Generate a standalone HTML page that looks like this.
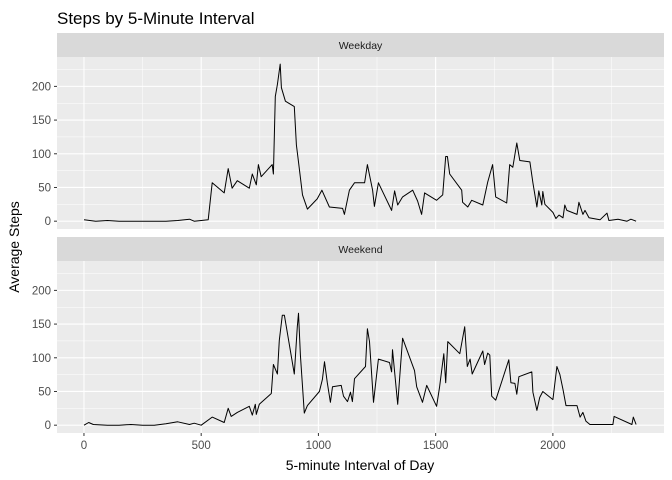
<!DOCTYPE html>
<html><head><meta charset="utf-8"><style>
body{margin:0;background:#fff;}
svg{display:block;font-family:"Liberation Sans",Arial,sans-serif;}
</style></head><body>
<svg id="c" width="672" height="480" viewBox="0 0 672 480">
<text x="57" y="24" font-size="17" fill="#000">Steps by 5-Minute Interval</text>
<text transform="translate(19,247) rotate(-90)" text-anchor="middle" font-size="14" fill="#000">Average Steps</text>
<text x="360" y="470" text-anchor="middle" font-size="14" fill="#000">5-minute Interval of Day</text>
<g id="plot"></g>
</svg>
<script>
const xTicks=[0,500,1000,1500,2000];
const yTicks=[0,50,100,150,200];
const facetNames=["Weekday","Weekend"];
const wdX=[0,50,100,150,200,250,300,350,400,450,470,530,547,598,615,632,654,705,718,735,744,756,803,808,816,825,837,842,859,897,906,915,932,953,995,1015,1047,1103,1111,1132,1154,1197,1209,1231,1239,1256,1312,1325,1338,1359,1402,1423,1440,1453,1504,1530,1543,1550,1560,1611,1615,1637,1654,1701,1722,1743,1756,1803,1816,1829,1846,1859,1902,1915,1932,1940,1953,1957,1966,2000,2013,2026,2043,2051,2060,2103,2111,2128,2137,2154,2201,2231,2239,2278,2316,2333,2355];
const wdY=[2,0,1,0,0,0,0,0,1,3,0,2,57,42,78,49,60,49,70,54,84,66,84,70,185,203,233,198,178,170,113,88,39,18,33,46,21,19,10,46,57,57,84,46,22,57,16,45,24,36,46,30,10,42,31,39,96,96,70,46,28,21,31,24,58,84,36,27,84,80,116,90,88,57,21,45,24,44,25,13,4,9,5,24,16,10,28,10,16,5,2,12,1,3,0,3,0];
const weX=[0,20,40,100,150,200,250,300,350,400,450,470,500,547,598,615,628,654,705,718,731,735,748,799,808,825,833,846,855,897,910,915,923,940,953,1004,1017,1026,1038,1051,1060,1097,1107,1124,1137,1145,1154,1201,1209,1218,1235,1256,1303,1312,1316,1338,1359,1410,1419,1444,1462,1504,1517,1535,1543,1552,1603,1624,1635,1647,1656,1701,1709,1722,1731,1739,1756,1812,1821,1838,1846,1855,1910,1915,1932,1944,1957,2000,2017,2030,2043,2056,2103,2116,2128,2141,2158,2256,2261,2337,2343,2355];
const weY=[0,4,1,0,0,1,0,0,2,5,1,3,0,12,4,25,13,19,28,15,31,16,31,47,90,76,126,163,163,76,146,166,104,18,29,50,68,94,63,34,57,59,43,35,49,35,69,87,143,124,34,98,93,79,112,31,129,81,57,34,59,28,57,106,63,124,106,146,87,98,76,110,90,107,104,43,37,97,63,62,46,72,79,49,22,41,50,38,87,75,53,29,29,12,19,6,1,1,13,1,12,1];
const series=[[wdX,wdY],[weX,weY]];
const NS="http://www.w3.org/2000/svg";
const g=document.getElementById('plot');
const L=57,R=664,xMin=-115,xMax=2474;
const sx=v=>L+(v-xMin)/(xMax-xMin)*(R-L);
const panels=[{sTop:33,top:57,bot:229},{sTop:237,top:261,bot:433}];
const yMin=-11.6,yMax=243.6;
function mk(t,a){const e=document.createElementNS(NS,t);for(const k in a)e.setAttribute(k,a[k]);g.appendChild(e);return e;}
panels.forEach((p,i)=>{
 const sy=v=>p.bot-(v-yMin)/(yMax-yMin)*(p.bot-p.top);
 let s=mk('rect',{x:L,y:p.sTop,width:R-L,height:p.top-p.sTop,fill:'#d9d9d9'});
 
 
 let st=mk('text',{x:(L+R)/2,y:p.sTop+16,'text-anchor':'middle','font-size':'10.5',fill:'#1a1a1a'});
 st.textContent=facetNames[i];
 
 
 let bg=mk('rect',{x:L,y:p.top,width:R-L,height:p.bot-p.top,fill:'#ebebeb'});
 
 
 for(let v=-250;v<=2500;v+=500){const x=sx(v);if(x>L&&x<R)mk('line',{x1:x,x2:x,y1:p.top,y2:p.bot,stroke:'#fff','stroke-width':0.5});}
 for(let v=25;v<=225;v+=50){const y=sy(v);mk('line',{x1:L,x2:R,y1:y,y2:y,stroke:'#fff','stroke-width':0.5});}
 xTicks.forEach(v=>{const x=sx(v);mk('line',{x1:x,x2:x,y1:p.top,y2:p.bot,stroke:'#fff','stroke-width':1.1});});
 yTicks.forEach(v=>{const y=sy(v);mk('line',{x1:L,x2:R,y1:y,y2:y,stroke:'#fff','stroke-width':1.1});
  mk('line',{x1:L-3,x2:L,y1:y,y2:y,stroke:'#333','stroke-width':1});
  let t=mk('text',{x:L-6,y:y+4,'text-anchor':'end','font-size':'11.5',fill:'#4d4d4d'});t.textContent=v;
  
  });
 const [xs,ys]=series[i];
 let d=xs.map((v,j)=>(j?'L':'M')+sx(v).toFixed(1)+' '+sy(ys[j]).toFixed(1)).join(' ');
 let path=mk('path',{d:d,fill:'none',stroke:'#000','stroke-width':1,'stroke-linejoin':'round'});
 
 
});
xTicks.forEach(v=>{const x=sx(v);mk('line',{x1:x,x2:x,y1:433,y2:436,stroke:'#333','stroke-width':1});
 let t=mk('text',{x:x,y:449,'text-anchor':'middle','font-size':'11.5',fill:'#4d4d4d'});t.textContent=v;
 
 });
</script>
</body></html>
